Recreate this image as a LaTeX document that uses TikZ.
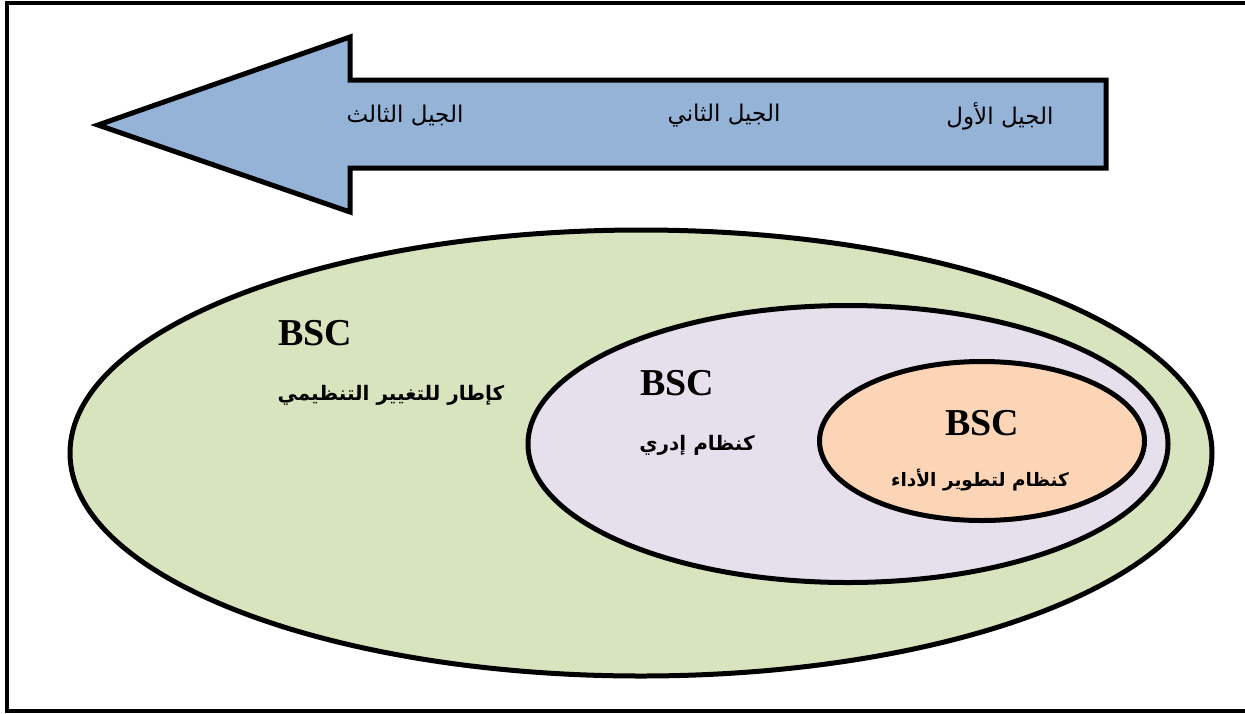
\documentclass[tikz,border=0pt]{standalone}
\usepackage{fontspec}
\usetikzlibrary{shapes.geometric}
\setmainfont{Liberation Serif}
\newfontfamily\arabicfont[Script=Arabic]{DejaVu Sans}
\TeXXeTstate=1
\definecolor{arrowblue}{HTML}{95B3D7}
\definecolor{outergreen}{HTML}{D7E4BD}
\definecolor{midlilac}{HTML}{E5E0EC}
\definecolor{innerpeach}{HTML}{FBD5B5}
\tikzset{
  ring/.style={ellipse, draw=black, line width=5pt, inner sep=0pt},
  gentext/.style={font=\arabicfont\fontsize{23}{26}\selectfont, inner sep=0pt},
  bsctext/.style={font=\bfseries\fontsize{38}{42}\selectfont, inner sep=0pt},
  ringtext/.style={font=\arabicfont\bfseries\fontsize{20}{24}\selectfont, inner sep=0pt},
}
\begin{document}
\begin{tikzpicture}[x=1pt,y=-1pt]
\useasboundingbox (0,0) rectangle (1245,713);
\fill[white] (0,0) rectangle (1245,713);
\draw[line width=4.5pt] (7,3) rectangle (1255,711);
% arrow
\draw[fill=arrowblue, line width=5pt, line join=miter]
  (98,125) -- (350,37) -- (350,80) -- (1106,80) -- (1106,168) -- (350,168) -- (350,212) -- cycle;
\node[gentext] (g3) at (405,116) {\beginR الجيل الثالث\endR};
\node[gentext] (g2) at (724,116) {\beginR الجيل الثاني\endR};
\node[gentext] (g1) at (1000,116) {\beginR الجيل الأول\endR};
% ellipses
\node[ring, fill=outergreen, minimum width=1142pt, minimum height=446pt] (outer) at (641,453) {};
\node[ring, fill=midlilac, minimum width=640pt, minimum height=277pt] (mid) at (848,444) {};
\node[ring, fill=innerpeach, minimum width=325pt, minimum height=159pt] (inner) at (982,441) {};
% labels
\node[bsctext] (b1) at (315,333) {BSC};
\node[ringtext] (t1) at (391,395) {\beginR كإطار للتغيير التنظيمي\endR};
\node[bsctext] (b2) at (677,383) {BSC};
\node[ringtext] (t2) at (697,445) {\beginR كنظام إدري\endR};
\node[bsctext] (b3) at (982,423) {BSC};
\node[ringtext, font=\arabicfont\bfseries\fontsize{18.5}{22}\selectfont] (t3) at (980,480) {\beginR كنظام لتطوير الأداء\endR};
\end{tikzpicture}
\end{document}
